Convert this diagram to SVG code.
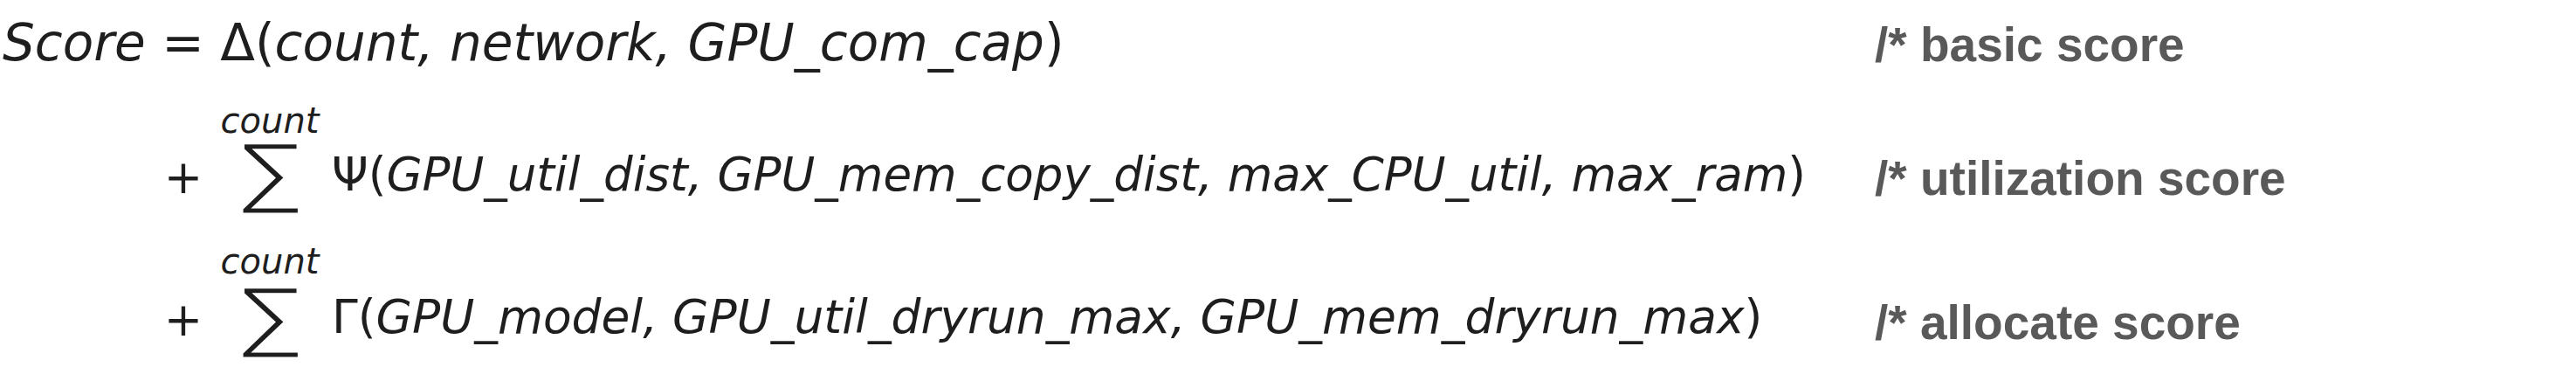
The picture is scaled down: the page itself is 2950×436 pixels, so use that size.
<svg xmlns="http://www.w3.org/2000/svg" width="2950" height="436" viewBox="0 0 2950 436">
<style>
.m{font-family:"DejaVu Sans",sans-serif;font-style:oblique;fill:#1e1e1e}
.u{font-style:normal}
.r1{font-size:58px}
.r2{font-size:53px}
.r3{font-size:53.4px}
.lim{font-family:"DejaVu Sans",sans-serif;font-style:oblique;font-size:40px;fill:#1e1e1e}
.op{font-family:"DejaVu Sans",sans-serif;fill:#1e1e1e}
.sig{font-family:"DejaVu Sans",sans-serif;font-size:90px;fill:#1e1e1e;stroke:#ffffff;stroke-width:3.5px;text-anchor:middle}
.c{font-family:"Liberation Sans",Arial,sans-serif;font-weight:bold;font-size:55px;fill:#595959}
</style>
<rect width="2950" height="436" fill="#ffffff"/>
<g id="row-basic">
<text class="m r1" x="3" y="69">Score <tspan class="u">=</tspan> <tspan class="u">Δ(</tspan>count, network, GPU_com_cap<tspan class="u">)</tspan></text>
<text class="c" x="2147" y="70">/* basic score</text>
</g>
<g id="row-utilization">
<text class="op" x="210" y="221" font-size="53" text-anchor="middle">+</text>
<text class="lim" x="309" y="152" text-anchor="middle">count</text>
<text class="sig" x="0" y="0" transform="translate(310 228) scale(1.15 1)">∑</text>
<text class="m r2" x="380" y="218"><tspan class="u">Ψ(</tspan>GPU_util_dist, GPU_mem_copy_dist, max_CPU_util, max_ram<tspan class="u">)</tspan></text>
<text class="c" x="2147" y="223">/* utilization score</text>
</g>
<g id="row-allocate">
<text class="op" x="210" y="384" font-size="53" text-anchor="middle">+</text>
<text class="lim" x="309" y="313" text-anchor="middle">count</text>
<text class="sig" x="0" y="0" transform="translate(310 393) scale(1.15 1)">∑</text>
<text class="m r3" x="380" y="381"><tspan class="u">Γ(</tspan>GPU_model, GPU_util_dryrun_max, GPU_mem_dryrun_max<tspan class="u">)</tspan></text>
<text class="c" x="2147" y="388">/* allocate score</text>
</g>
<g id="connectors"/>
</svg>
